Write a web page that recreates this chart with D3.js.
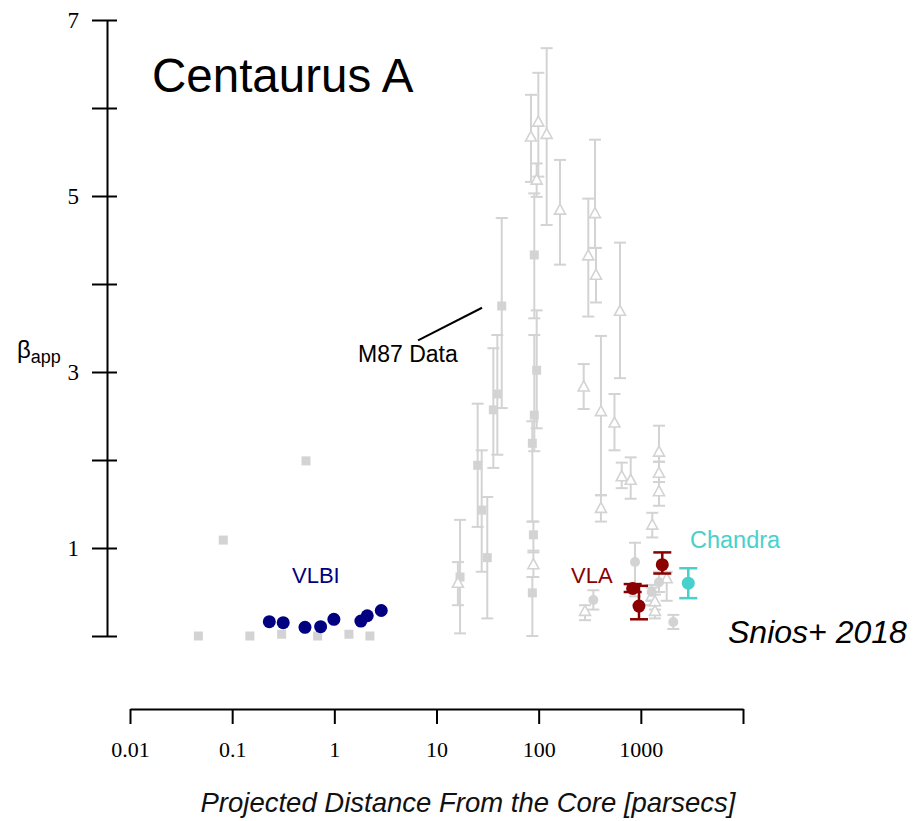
<!DOCTYPE html>
<html>
<head>
<meta charset="utf-8">
<script src="https://cdn.jsdelivr.net/npm/d3@7"></script>
<style>
  html, body { margin: 0; padding: 0; background: #fff; }
  svg { display: block; }
</style>
</head>
<body>
<svg id="chart" width="921" height="821"></svg>
<script>
// ---- data -------------------------------------------------------------
// Centaurus A jet: VLBI components (no error bars shown)
const vlbiDist = [0.231, 0.316, 0.516, 0.734, 0.99, 1.82, 2.10, 2.88];
const vlbiBeta = [0.163, 0.151, 0.099, 0.106, 0.19, 0.17, 0.23, 0.29];

// Centaurus A: VLA knots  [distance, beta, low, high]
const vlaDist = [832, 959, 1622];
const vlaBeta = [0.54, 0.34, 0.81];
const vlaLow  = [0.50, 0.19, 0.71];
const vlaHigh = [0.59, 0.57, 0.95];

// Centaurus A: Chandra X-ray knot
const chandraDist = [2913];
const chandraBeta = [0.60];
const chandraLow  = [0.43];
const chandraHigh = [0.77];

// M87 comparison data: squares without error bars
const m87SqDist = [0.0467, 0.0818, 0.149, 0.305, 0.528, 0.687, 1.39, 2.23];
const m87SqBeta = [0.0, 1.09, 0.0, 0.02, 1.99, 0.0, 0.02, 0.0];

// M87 comparison data: squares with error bars
const m87SqeDist = [17.0, 25.3, 27.7, 31.4, 36.0, 39.4, 43.5, 90.6, 95.6, 90.6, 86.7, 88.8, 86.7];
const m87SqeBeta = [0.67, 1.94, 1.43, 0.89, 2.57, 2.75, 3.75, 4.33, 3.02, 2.51, 2.19, 1.15, 0.49];
const m87SqeLow  = [0.03, 1.24, 0.73, 0.20, 1.91, 2.06, 2.59, 3.61, 2.36, 2.10, 1.30, 0.95, 0.0];
const m87SqeHigh = [1.32, 2.64, 2.11, 1.58, 3.27, 3.42, 4.75, 5.03, 3.70, 3.42, 2.44, 1.30, 0.67];

// M87 comparison data: open triangles
const m87TriDist = [16.2, 84.1, 99.2, 119.8, 95.6, 161.7, 88.8, 355.7, 364, 306, 625, 276, 407, 407,
                    552, 1506, 650, 796, 1506, 1506, 1294, 284, 1791, 1277, 1375, 1375];
const m87TriBeta = [0.60, 5.67, 5.84, 5.70, 5.18, 4.84, 0.81, 4.80, 4.10, 4.32, 3.69, 2.83, 2.55, 1.45,
                    2.42, 2.09, 1.81, 1.77, 1.85, 1.64, 1.26, 0.28, 0.65, 0.45, 0.39, 0.28];
const m87TriLow  = [0.35, 5.16, 5.22, 4.67, 4.99, 4.22, 0.67, 4.41, 3.79, 3.63, 2.93, 2.58, 1.60, 1.30,
                    2.11, 1.98, 1.68, 1.56, 1.75, 1.48, 1.12, 0.18, 0.40, 0.35, 0.30, 0.20];
const m87TriHigh = [0.84, 6.15, 6.40, 6.68, 5.37, 5.41, 0.97, 5.64, 4.41, 4.97, 4.47, 3.09, 3.41, 1.60,
                    2.75, 2.39, 1.97, 2.03, 1.98, 1.75, 1.40, 0.35, 0.73, 0.55, 0.47, 0.35];

// M87 comparison data: filled circles
const m87CirDist = [343, 877, 1506, 2078, 1277];
const m87CirBeta = [0.41, 0.84, 0.61, 0.16, 0.50];
const m87CirLow  = [0.30, 0.45, 0.50, 0.08, 0.40];
const m87CirHigh = [0.52, 1.06, 0.73, 0.24, 0.58];

// axis ticks
const xTickValues = [0.01, 0.1, 1, 10, 100, 1000, 10000];
const xTickLabels = ["0.01", "0.1", "1", "10", "100", "1000", ""];
const yTickValues = [0, 1, 2, 3, 4, 5, 6, 7];
const yTickLabels = ["", "1", "", "3", "", "5", "", "7"];

// leader line for the "M87 Data" label, in data units
const m87LeaderDist = [6.6, 27.9];
const m87LeaderBeta = [3.36, 3.73];

// ---- helpers ----------------------------------------------------------
const zip = (...arrs) => arrs[0].map((_, i) => arrs.map(a => a[i]));

const svg = d3.select("#chart");
const x = d3.scaleLog().domain([0.01, 10000]).range([130, 743]);
const y = d3.scaleLinear().domain([0, 7]).range([636, 20]);

const GRAY = "#d3d3d3";
const NAVY = "#000080";
const DARKRED = "#8b0000";
const TURQ = "#48d1cc";

function errorBars(g, rows, color, capHalf, width) {
  const eb = g.append("g").attr("stroke", color).attr("stroke-width", width).attr("fill", "none");
  rows.forEach(([d, b, lo, hi]) => {
    const cx = x(d);
    eb.append("line").attr("x1", cx).attr("x2", cx).attr("y1", y(lo)).attr("y2", y(hi));
    eb.append("line").attr("x1", cx - capHalf).attr("x2", cx + capHalf).attr("y1", y(lo)).attr("y2", y(lo));
    eb.append("line").attr("x1", cx - capHalf).attr("x2", cx + capHalf).attr("y1", y(hi)).attr("y2", y(hi));
  });
}

// ---- M87 comparison data (gray) ----------------------------------------
const gM87 = svg.append("g");
const sqe = zip(m87SqeDist, m87SqeBeta, m87SqeLow, m87SqeHigh);
const tri = zip(m87TriDist, m87TriBeta, m87TriLow, m87TriHigh);
const cir = zip(m87CirDist, m87CirBeta, m87CirLow, m87CirHigh);

errorBars(gM87, sqe, GRAY, 6, 2);
errorBars(gM87, tri, GRAY, 6, 2);
errorBars(gM87, cir, GRAY, 6, 2);

gM87.append("g").selectAll("rect")
  .data(zip(m87SqDist, m87SqBeta).concat(sqe.map(r => [r[0], r[1]])))
  .join("rect")
  .attr("x", d => x(d[0]) - 4.5).attr("y", d => y(d[1]) - 4.5)
  .attr("width", 9).attr("height", 9)
  .attr("fill", GRAY);

const triPath = "M0,-6 L5.5,4 L-5.5,4 Z";
gM87.append("g").selectAll("path")
  .data(tri)
  .join("path")
  .attr("d", triPath)
  .attr("transform", d => `translate(${x(d[0])},${y(d[1])})`)
  .attr("fill", "#fff")
  .attr("stroke", GRAY)
  .attr("stroke-width", 1.6);

gM87.append("g").selectAll("circle")
  .data(cir)
  .join("circle")
  .attr("cx", d => x(d[0])).attr("cy", d => y(d[1]))
  .attr("r", 5).attr("fill", GRAY);

// ---- Centaurus A data ------------------------------------------------------
svg.append("g").selectAll("circle")
  .data(zip(vlbiDist, vlbiBeta))
  .join("circle")
  .attr("cx", d => x(d[0])).attr("cy", d => y(d[1]))
  .attr("r", 6.5).attr("fill", NAVY);

const vla = zip(vlaDist, vlaBeta, vlaLow, vlaHigh);
const gVla = svg.append("g");
errorBars(gVla, vla, DARKRED, 9, 2.5);
gVla.append("g").selectAll("circle")
  .data(vla).join("circle")
  .attr("cx", d => x(d[0])).attr("cy", d => y(d[1]))
  .attr("r", 6.5).attr("fill", DARKRED);

const chandra = zip(chandraDist, chandraBeta, chandraLow, chandraHigh);
const gCh = svg.append("g");
errorBars(gCh, chandra, TURQ, 9, 2.5);
gCh.append("g").selectAll("circle")
  .data(chandra).join("circle")
  .attr("cx", d => x(d[0])).attr("cy", d => y(d[1]))
  .attr("r", 6.5).attr("fill", TURQ);

// ---- axes --------------------------------------------------------------
const serif = "'Liberation Serif', 'Times New Roman', serif";
const xAxis = d3.axisBottom(x)
  .tickValues(xTickValues)
  .tickFormat((d, i) => xTickLabels[i])
  .tickSizeInner(15).tickSizeOuter(0).tickPadding(17);
const gx = svg.append("g").attr("transform", "translate(0,709)").call(xAxis);
gx.select(".domain").attr("stroke", "#000").attr("stroke-width", 2);
gx.selectAll(".tick line").attr("stroke", "#000").attr("stroke-width", 2);
gx.selectAll(".tick text")
  .attr("font-family", serif)
  .attr("font-size", 22).attr("fill", "#000");

const yAxis = d3.axisLeft(y)
  .tickValues(yTickValues)
  .tickFormat((d, i) => yTickLabels[i])
  .tickSizeInner(15).tickSizeOuter(0).tickPadding(13);
const gy = svg.append("g").attr("transform", "translate(107,0)").call(yAxis);
gy.select(".domain").attr("stroke", "#000").attr("stroke-width", 2);
gy.selectAll(".tick line").attr("stroke", "#000").attr("stroke-width", 2).attr("x1", 10);
gy.selectAll(".tick text")
  .attr("font-family", serif)
  .attr("font-size", 23).attr("fill", "#000");

// axis titles
const sans = "'Liberation Sans', Arial, sans-serif";
const yTitle = svg.append("text")
  .attr("x", 17).attr("y", 358)
  .attr("font-family", sans)
  .attr("font-size", 24).attr("fill", "#000");
yTitle.append("tspan").text("β");
yTitle.append("tspan").attr("dy", 5).attr("font-size", 18).text("app");

svg.append("text")
  .attr("x", 468).attr("y", 812)
  .attr("text-anchor", "middle")
  .attr("font-family", sans)
  .attr("font-style", "italic")
  .attr("font-size", 27.5).attr("fill", "#111")
  .text("Projected Distance From the Core [parsecs]");

// ---- labels ------------------------------------------------------------
svg.append("text").attr("x", 152).attr("y", 92)
  .attr("font-family", sans).attr("font-size", 47.5).attr("fill", "#000")
  .text("Centaurus A");

svg.append("text").attr("x", 358).attr("y", 362)
  .attr("font-family", sans).attr("font-size", 23).attr("fill", "#000")
  .text("M87 Data");
svg.append("line")
  .attr("x1", x(m87LeaderDist[0])).attr("y1", y(m87LeaderBeta[0]))
  .attr("x2", x(m87LeaderDist[1])).attr("y2", y(m87LeaderBeta[1]))
  .attr("stroke", "#000").attr("stroke-width", 2);

svg.append("text").attr("x", 292).attr("y", 583)
  .attr("font-family", sans).attr("font-size", 22).attr("fill", NAVY)
  .text("VLBI");
svg.append("text").attr("x", 571).attr("y", 583)
  .attr("font-family", sans).attr("font-size", 22).attr("fill", DARKRED)
  .text("VLA");
svg.append("text").attr("x", 690).attr("y", 548)
  .attr("font-family", sans).attr("font-size", 23.5).attr("fill", TURQ)
  .text("Chandra");

svg.append("text").attr("x", 728).attr("y", 643)
  .attr("font-family", sans).attr("font-style", "italic")
  .attr("font-size", 32).attr("fill", "#000")
  .text("Snios+ 2018");
</script>
</body>
</html>
